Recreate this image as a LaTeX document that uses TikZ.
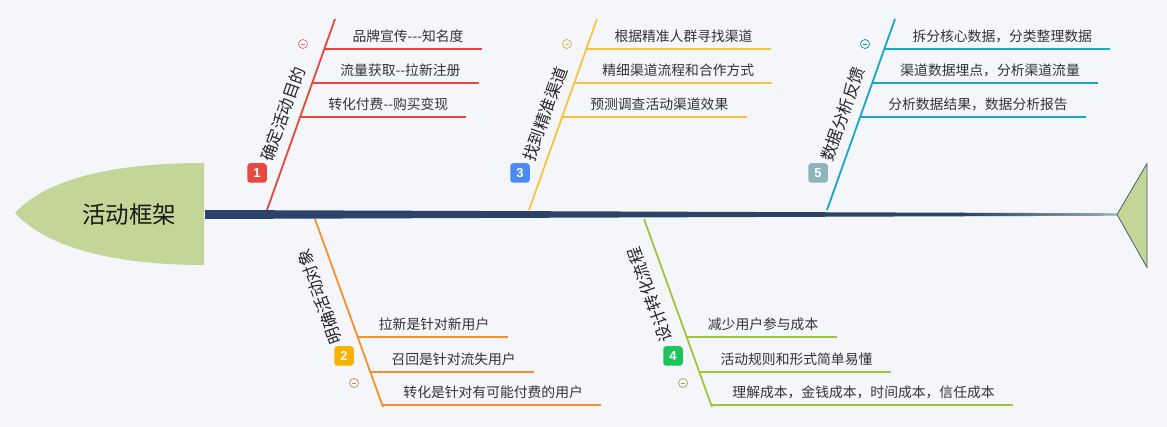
\documentclass[tikz,border=0pt]{standalone}
\usepackage{fontspec}
\newfontfamily\cjk{Noto Sans CJK SC}
\newfontfamily\numfont{Liberation Sans}
\usepackage{tikz}
\usepackage{xcolor}
\usetikzlibrary{calc}
\definecolor{bgcol}{HTML}{F5F6FA}
\definecolor{headgreen}{HTML}{C4D697}
\definecolor{tailedge}{HTML}{4C5C6E}
\definecolor{spinedark}{HTML}{2C4369}
\definecolor{spinelight}{HTML}{9EABBB}
\definecolor{textgray}{HTML}{333333}
\definecolor{bone1}{HTML}{E8473E}
\definecolor{bone2}{HTML}{F5922B}
\definecolor{bone3}{HTML}{F7C440}
\definecolor{bone4}{HTML}{A5C43E}
\definecolor{bone5}{HTML}{17A8C8}
\definecolor{badge1}{HTML}{E5493F}
\definecolor{badge2}{HTML}{F8B300}
\definecolor{badge3}{HTML}{4A8BF5}
\definecolor{badge4}{HTML}{1EC45B}
\definecolor{badge5}{HTML}{8DB4BA}
\newcommand\hy{\mbox{-}}
\tikzset{
  bone/.style={line width=1.8pt},
  twig/.style={line width=2.6pt},
  twiglabel/.style={font=\cjk\fontsize{13.8}{16}\selectfont, text=textgray, inner sep=0pt, anchor=west},
  bonelabel/.style={font=\cjk\fontsize{16.5}{20}\selectfont, text=black!85, inner sep=0pt},
  badge/.style={fill=#1, rounded corners=3pt, minimum size=19.5pt, inner sep=0pt, text=white, font=\numfont\bfseries\fontsize{13}{15}\selectfont},
  fold/.style={circle, draw=#1, line width=0.7pt, minimum size=9pt, inner sep=0pt,
    path picture={\draw[#1, line width=0.7pt] ([xshift=2.2pt]path picture bounding box.west) -- ([xshift=-2.2pt]path picture bounding box.east);}},
}

\begin{document}
\begin{tikzpicture}[x=1pt,y=-1pt]
\fill[bgcol] (0,0) rectangle (1167,427);
\useasboundingbox (0,0) rectangle (1167,427);
% head
\fill[headgreen] (204,163) .. controls (110,163) and (45,180) .. (15,213) .. controls (45,246) and (110,265) .. (204,265) -- cycle;
\node[font=\cjk\fontsize{23.5}{28}\selectfont, text=black!90] (head) at (129,215) {活动框架};
\coordinate (sp0) at (205,214.5);
\coordinate (sp1) at (1117,214.5);

% upper bones
\coordinate (b1s) at (267,210); \coordinate (b1e) at (335,19);
\coordinate (b3s) at (529,210); \coordinate (b3e) at (597,19);
\coordinate (b5s) at (827,210); \coordinate (b5e) at (895,19);
\draw[bone, bone1] (b1s) -- (b1e);
\draw[bone, bone3] (b3s) -- (b3e);
\draw[bone, bone5] (b5s) -- (b5e);
\foreach \i/\p/\txt in {1/0.843/品牌宣传\hy\hy\hy{}知名度, 2/0.665/流量获取\hy\hy{}拉新注册, 3/0.487/转化付费\hy\hy{}购买变现}{
  \coordinate (b1t\i) at ($(b1s)!\p!(b1e)$);
  \node[twiglabel] (l1t\i) at ($(b1t\i)+(28,-13)$) {\txt};
  \draw[twig, bone1] (b1t\i) -- ([xshift=18pt]l1t\i.east |- b1t\i);
}
\foreach \i/\p/\txt in {1/0.843/根据精准人群寻找渠道, 2/0.665/精细渠道流程和合作方式, 3/0.487/预测调查活动渠道效果}{
  \coordinate (b3t\i) at ($(b3s)!\p!(b3e)$);
  \node[twiglabel] (l3t\i) at ($(b3t\i)+(28,-13)$) {\txt};
  \draw[twig, bone3] (b3t\i) -- ([xshift=18pt]l3t\i.east |- b3t\i);
}
\foreach \i/\p/\txt in {1/0.843/拆分核心数据，分类整理数据, 2/0.665/渠道数据埋点，分析渠道流量, 3/0.487/分析数据结果，数据分析报告}{
  \coordinate (b5t\i) at ($(b5s)!\p!(b5e)$);
  \node[twiglabel] (l5t\i) at ($(b5t\i)+(28,-13)$) {\txt};
  \draw[twig, bone5] (b5t\i) -- ([xshift=18pt]l5t\i.east |- b5t\i);
}
\node[bonelabel, rotate=70.4] (n1) at (283,114) {确定活动目的};
\node[bonelabel, rotate=70.4] (n3) at (545,114) {找到精准渠道};
\node[bonelabel, rotate=70.4] (n5) at (843,114) {数据分析反馈};
\node[badge=badge1] (k1) at (257,173) {1};
\node[badge=badge3] (k3) at (520,173) {3};
\node[badge=badge5] (k5) at (818,173) {5};
\node[fold=bone1!80] (f1) at (303,44) {};
\node[fold=bone3!90!black] (f3) at (567,44) {};
\node[fold=bone5!85!black] (f5) at (865,44) {};

% lower bones
\coordinate (b2s) at (315,219); \coordinate (b2e) at (383,407);
\coordinate (b4s) at (644,219); \coordinate (b4e) at (712,407);
\draw[bone, bone2] (b2s) -- (b2e);
\draw[bone, bone4] (b4s) -- (b4e);
\foreach \i/\p/\txt in {1/0.628/拉新是针对新用户, 2/0.814/召回是针对流失用户, 3/0.989/转化是针对有可能付费的用户}{
  \coordinate (b2t\i) at ($(b2s)!\p!(b2e)$);
  \node[twiglabel] (l2t\i) at ($(b2t\i)+(21,-13)$) {\txt};
  \draw[twig, bone2] (b2t\i) -- ([xshift=18pt]l2t\i.east |- b2t\i);
}
\foreach \i/\p/\txt in {1/0.628/减少用户参与成本, 2/0.814/活动规则和形式简单易懂, 3/0.989/理解成本，金钱成本，时间成本，信任成本}{
  \coordinate (b4t\i) at ($(b4s)!\p!(b4e)$);
  \node[twiglabel] (l4t\i) at ($(b4t\i)+(21,-13)$) {\txt};
  \draw[twig, bone4] (b4t\i) -- ([xshift=18pt]l4t\i.east |- b4t\i);
}
\node[bonelabel, rotate=109.9] (n2) at (320,297) {明确活动对象};
\node[bonelabel, rotate=109.9] (n4) at (650,295) {设计转化流程};
\node[badge=badge2] (k2) at (344,356) {2};
\node[badge=badge4] (k4) at (673,356) {4};
\node[fold=bone2!60!gray] (f2) at (354,383) {};
\node[fold=bone4!60!gray] (f4) at (683,383) {};

% spine, dark part then fading to the tail
\fill[spinedark] ($(sp0)+(0,-4.5)$) -- (961,{214.5-1.76}) -- (961,{214.5+1.76}) -- ($(sp0)+(0,4.5)$) -- cycle;
\foreach \x [evaluate=\x as \h using 4.5-3.3*(\x-205)/912,
             evaluate=\x as \hh using 4.5-3.3*(\x+6.5-205)/912,
             evaluate=\x as \c using 100-100*(\x-960)/157] in {960,966,...,1110}{
  \fill[spinedark!\c!spinelight] (\x,{214.5-\h}) -- ({\x+6.5},{214.5-\hh}) -- ({\x+6.5},{214.5+\hh}) -- (\x,{214.5+\h}) -- cycle;
}
% tail
\filldraw[fill=headgreen, draw=tailedge, line width=0.8pt] (sp1) -- ++(30,-51) -- ++(0,104) -- cycle;
\end{tikzpicture}
\end{document}
